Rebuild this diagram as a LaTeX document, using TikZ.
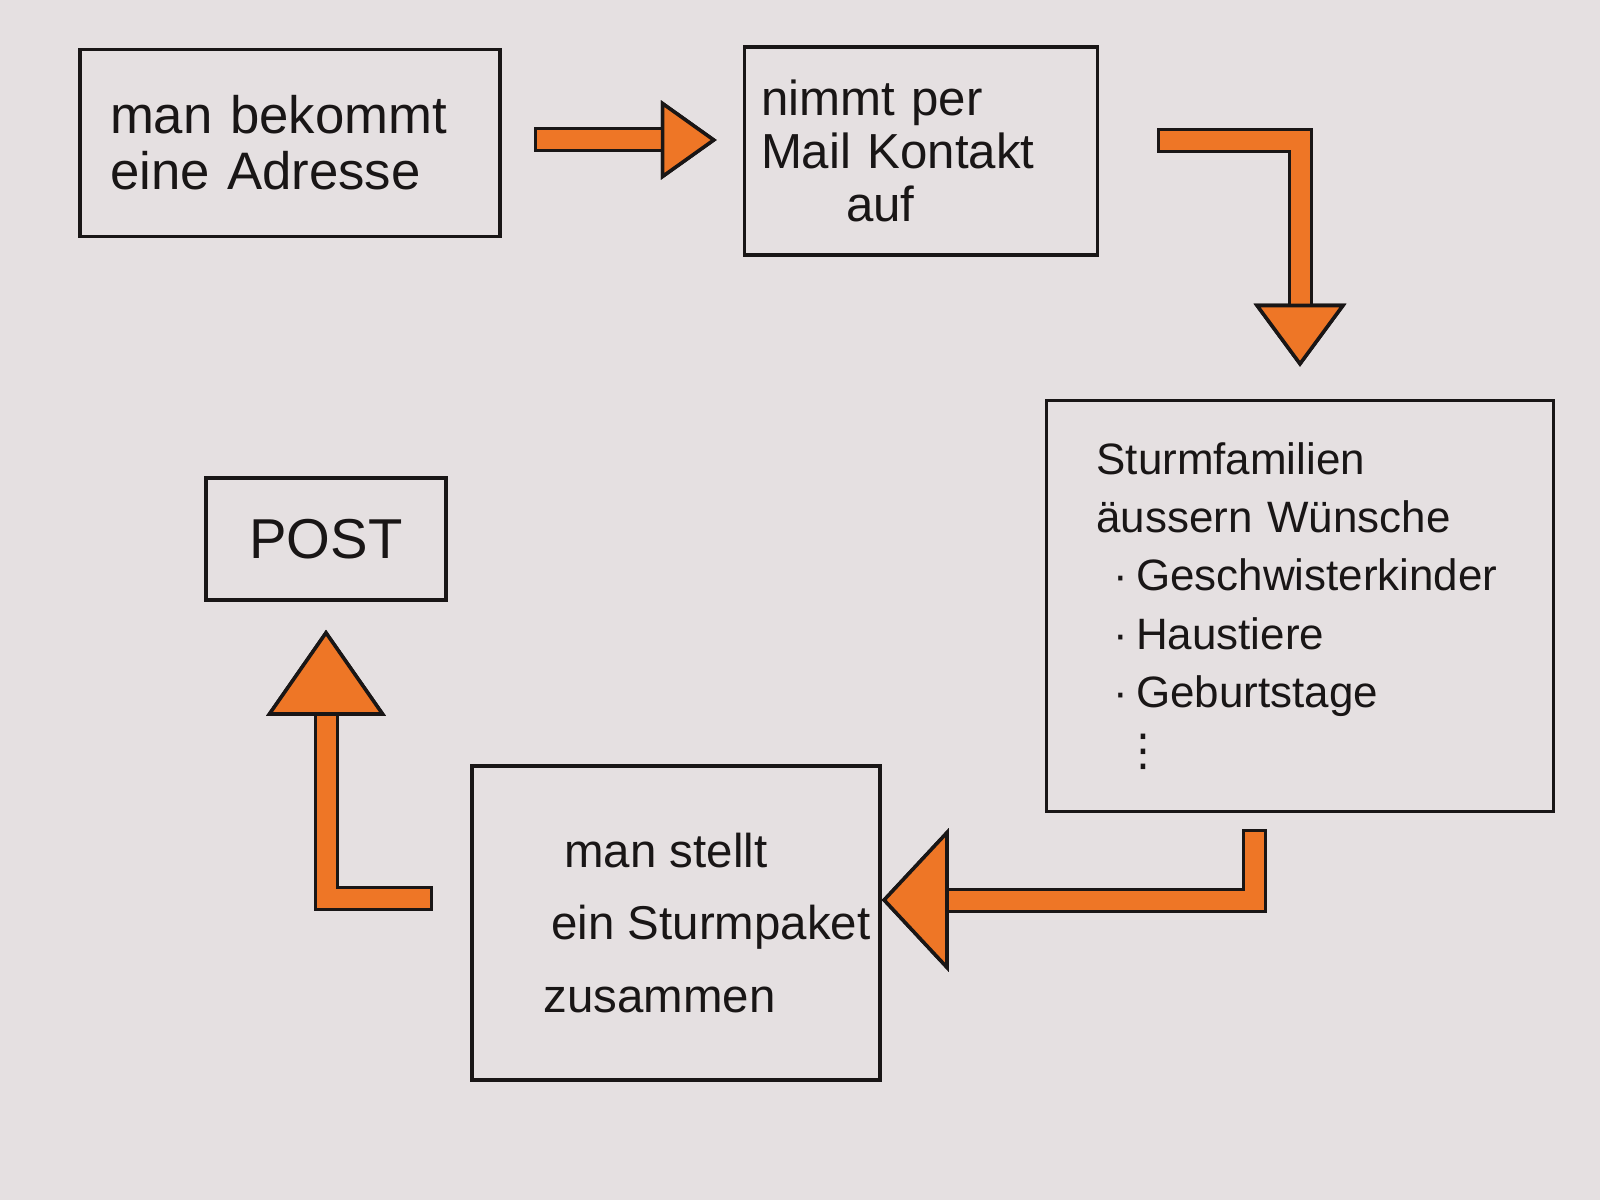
\documentclass[tikz,border=0pt]{standalone}
\usepackage{fontspec}
\setmainfont{Liberation Sans}
\newfontfamily\dotsfont{DejaVu Sans}
\usetikzlibrary{arrows.meta, positioning}
\definecolor{paper}{RGB}{229,224,225}
\definecolor{ink}{RGB}{25,22,22}
\definecolor{marker}{RGB}{238,118,38}

\begin{document}
\begin{tikzpicture}[
    x=0.1mm, y=-0.1mm,
    box/.style={rectangle, draw=ink, line width=1pt, align=left, text=ink},
    flow/.style 2 args={draw=marker, line width=1.9mm, line cap=rect,
        preaction={draw=ink, line width=2.5mm, line cap=rect,
            -{Triangle[length=#1, width=#2, line width=1pt, fill=ink]}},
        -{Triangle[length=#1, width=#2, line width=1pt, color=ink, fill=marker]}}
]

% Paper
\fill[paper] (0,0) rectangle (1600,1200);
\useasboundingbox (0,0) rectangle (1600,1200);

% Steps
\node[box, minimum width=42mm, minimum height=18.7mm, text width=36mm, inner xsep=3mm,
    font=\fontsize{15}{16}\selectfont] (adresse) at (290,143) {man bekommt\\eine Adresse};

\node[box, minimum width=35.3mm, minimum height=20.8mm, text width=32mm, inner xsep=1.65mm,
    font=\fontsize{14}{15}\selectfont] (mail) at (921,151) {nimmt per\\Mail Kontakt\\\hspace*{8.5mm}auf};

\node[box, minimum width=50.7mm, minimum height=41.1mm, text width=40.7mm, inner xsep=5mm,
    font=\fontsize{12.5}{16.6}\selectfont] (wishes) at (1300,606) {Sturmfamilien\\äussern Wünsche\\
    \hspace*{1.7mm}·\hspace*{0.8mm}Geschwisterkinder\\
    \hspace*{1.7mm}·\hspace*{0.8mm}Haustiere\\
    \hspace*{1.7mm}·\hspace*{0.8mm}Geburtstage\\
    \hspace*{2.5mm}{\dotsfont ⋮}};

\node[box, minimum width=40.8mm, minimum height=31.4mm, inner xsep=0.5mm,
    font=\fontsize{13.5}{20.7}\selectfont] (paket) at (676,923) {\hspace*{8.3mm}man stellt\\\hspace*{7mm}ein Sturmpaket\\\hspace*{6.2mm}zusammen};

\node[box, minimum width=24mm, minimum height=12.2mm, align=center,
    font=\fontsize{16}{18}\selectfont] (post) at (326,539) {POST};

% Marker arrows
\draw[flow={5.6mm}{7.9mm}, shorten <=4.5mm, shorten >=2.6mm]
    ([yshift=0.3mm]adresse.east) -- ([yshift=0.3mm]adresse.east -| mail.west);
\draw[flow={6.3mm}{9.2mm}, shorten >=3.2mm]
    ([shift={(70,-10)}]mail.east) -| (wishes.north);
\draw[flow={6.7mm}{14.3mm}]
    ([shift={(-46,28)}]wishes.south) |- ([yshift=2.3mm]paket.east);
\draw[flow={8.6mm}{11.9mm}, shorten >=2.8mm]
    ([shift={(-50,-25)}]paket.west) -| (post.south);

\end{tikzpicture}
\end{document}
